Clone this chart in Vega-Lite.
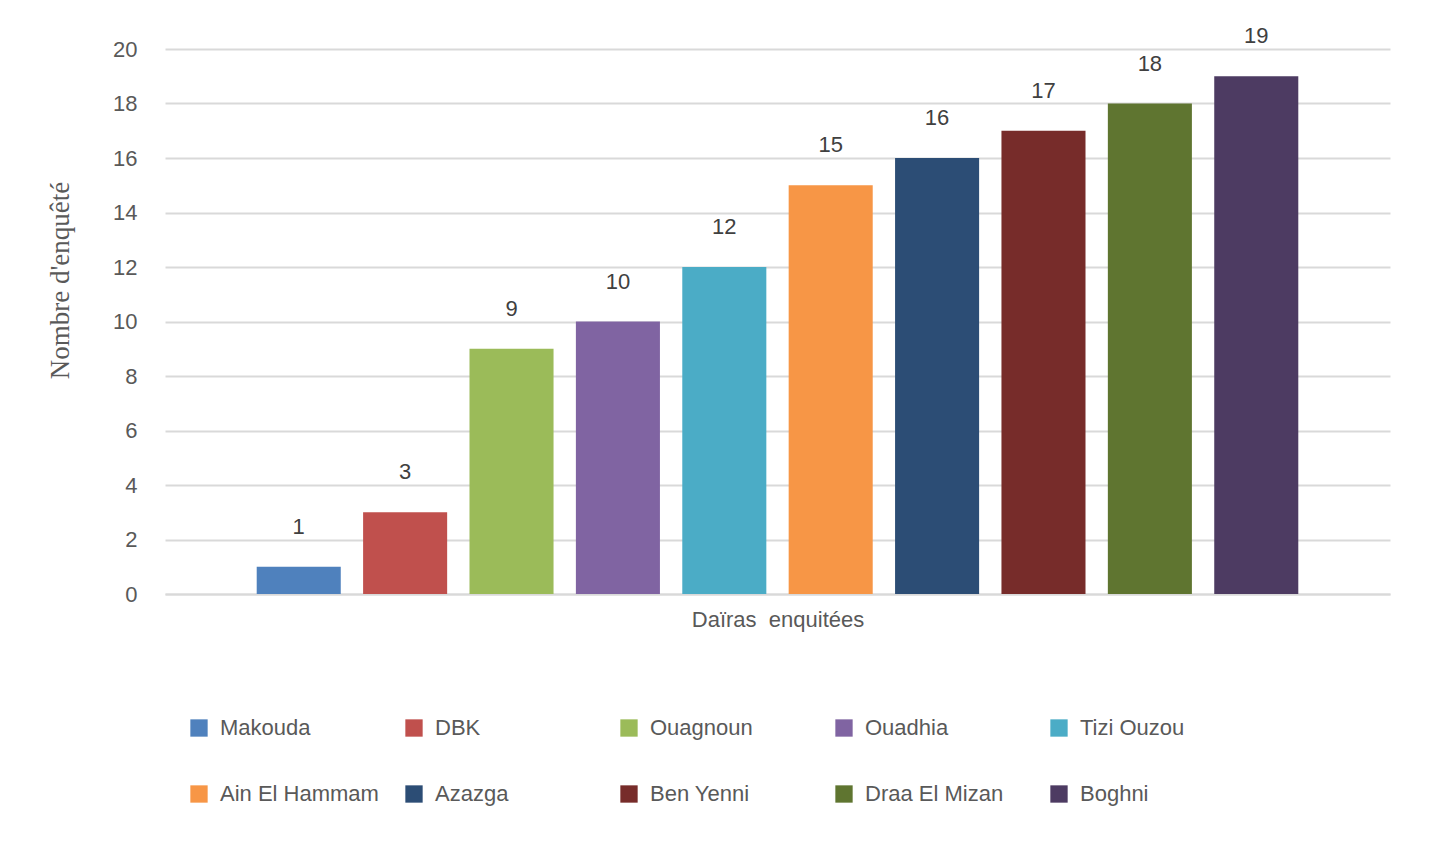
{
  "$schema": "https://vega.github.io/schema/vega-lite/v6.json",
  "width": 1225,
  "height": 545,
  "autosize": {"type": "none"},
  "padding": {"left": 165, "top": 49, "right": 42, "bottom": 248},
  "background": "white",
  "config": {
    "view": {"stroke": null},
    "font": "Liberation Sans"
  },
  "data": {
    "values": [
      {"daira": "Makouda", "n": 1},
      {"daira": "DBK", "n": 3},
      {"daira": "Ouagnoun", "n": 9},
      {"daira": "Ouadhia", "n": 10},
      {"daira": "Tizi Ouzou", "n": 12},
      {"daira": "Ain El Hammam", "n": 15},
      {"daira": "Azazga", "n": 16},
      {"daira": "Ben Yenni", "n": 17},
      {"daira": "Draa El Mizan", "n": 18},
      {"daira": "Boghni", "n": 19}
    ]
  },
  "encoding": {
    "x": {
      "field": "daira",
      "type": "nominal",
      "sort": null,
      "scale": {"paddingInner": 0.21, "paddingOuter": 0.862},
      "axis": {
        "title": "Daïras\u00a0 enquitées",
        "titleFont": "Liberation Sans",
        "titleFontSize": 22,
        "titleFontWeight": "normal",
        "titleColor": "#595959",
        "titlePadding": 15,
        "labels": false,
        "ticks": false,
        "domain": true,
        "domainColor": "#d9d9d9",
        "domainWidth": 2
      }
    },
    "y": {
      "field": "n",
      "type": "quantitative",
      "scale": {"domain": [0, 20], "nice": false},
      "axis": {
        "values": [0, 2, 4, 6, 8, 10, 12, 14, 16, 18, 20],
        "title": "Nombre d'enquêté",
        "titleFont": "Liberation Serif",
        "titleFontSize": 27,
        "titleFontWeight": "normal",
        "titleColor": "#595959",
        "titlePadding": 38,
        "titleY": 231,
        "labelFont": "Liberation Sans",
        "labelFontSize": 22,
        "labelColor": "#595959",
        "labelPadding": 28,
        "ticks": false,
        "domain": false,
        "grid": true,
        "gridColor": "#d9d9d9",
        "gridWidth": 2
      }
    }
  },
  "layer": [
    {
      "mark": {"type": "bar"},
      "encoding": {
        "color": {
          "field": "daira",
          "type": "nominal",
          "sort": null,
          "scale": {
            "domain": ["Makouda", "DBK", "Ouagnoun", "Ouadhia", "Tizi Ouzou", "Ain El Hammam", "Azazga", "Ben Yenni", "Draa El Mizan", "Boghni"],
            "range": ["#4F81BD", "#C0504D", "#9BBB59", "#8064A2", "#4BACC6", "#F79646", "#2C4D75", "#772C2A", "#5F7530", "#4D3B62"]
          },
          "legend": {
            "title": null,
            "orient": "none",
            "legendX": 23,
            "legendY": 668,
            "direction": "horizontal",
            "columns": 5,
            "gridAlign": "all",
            "columnPadding": 24,
            "rowPadding": 44,
            "symbolType": "square",
            "symbolSize": 300,
            "symbolStrokeWidth": 0,
            "labelFont": "Liberation Sans",
            "labelFontSize": 22,
            "labelColor": "#595959",
            "labelOffset": 10,
            "labelLimit": 250
          }
        }
      }
    },
    {
      "mark": {"type": "text", "dy": -40, "fontSize": 22, "color": "#404040", "font": "Liberation Sans"},
      "encoding": {"text": {"field": "n", "type": "quantitative"}}
    }
  ]
}
